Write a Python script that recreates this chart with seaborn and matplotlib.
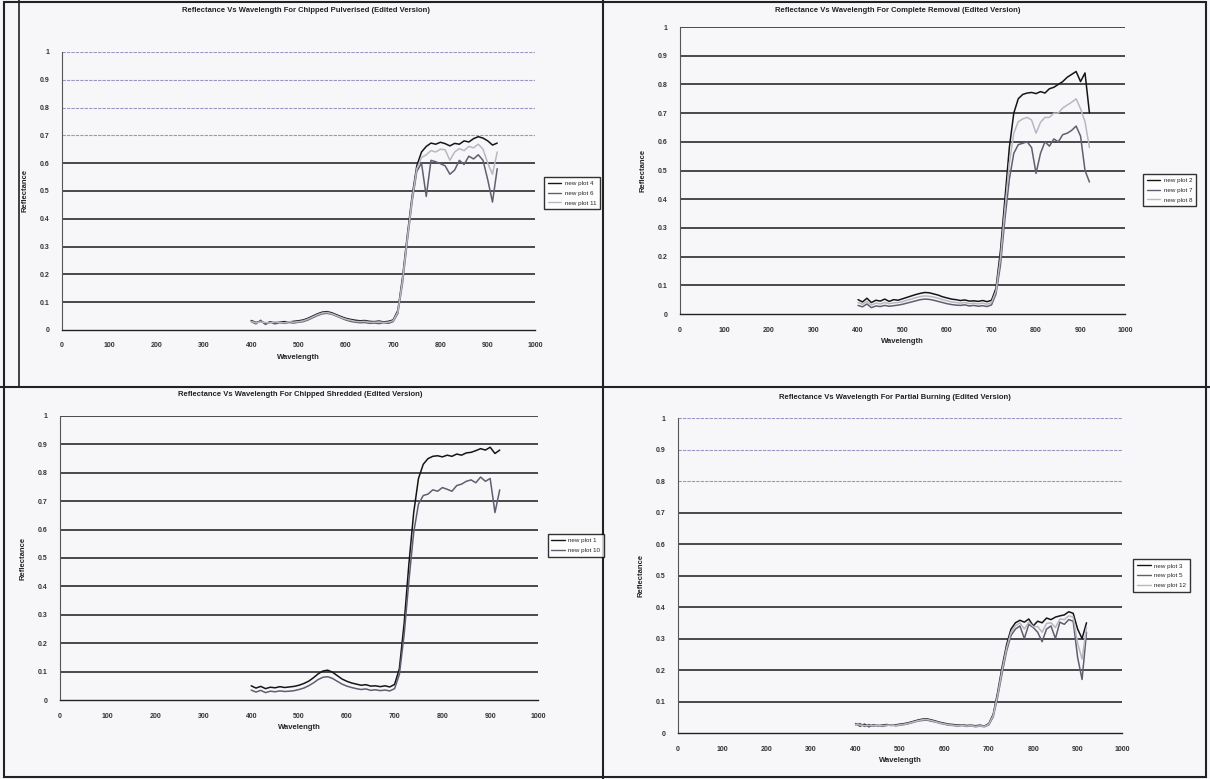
import numpy as np
import pandas as pd
import matplotlib
matplotlib.use('Agg')
import matplotlib.pyplot as plt
import seaborn as sns
from matplotlib.lines import Line2D
from matplotlib.patches import Rectangle

# Golflengte-raster (nm), gedeeld door alle vier de grafieken
wavelength = [400, 410, 420, 430, 440, 450, 460, 470, 480, 490,
              500, 510, 520, 530, 540, 550, 560, 570, 580, 590,
              600, 610, 620, 630, 640, 650, 660, 670, 680, 690,
              700, 710, 720, 730, 740, 750, 760, 770, 780, 790,
              800, 810, 820, 830, 840, 850, 860, 870, 880, 890,
              900, 910, 920]

# Chipped Pulverised
pulv_names = ['new plot 4', 'new plot 6', 'new plot 11']
pulv_plot4 = [0.034, 0.027, 0.031, 0.024, 0.029, 0.026, 0.028, 0.030, 0.029, 0.031,
              0.033, 0.036, 0.042, 0.050, 0.058, 0.064, 0.066, 0.062, 0.055, 0.048,
              0.042, 0.038, 0.035, 0.033, 0.034, 0.031, 0.030, 0.032, 0.029, 0.031,
              0.036, 0.070, 0.190, 0.340, 0.480, 0.590, 0.640, 0.660, 0.672, 0.668,
              0.675, 0.670, 0.662, 0.671, 0.668, 0.680, 0.676, 0.688, 0.695, 0.690,
              0.680, 0.665, 0.672]
pulv_plot6 = [0.030, 0.022, 0.035, 0.020, 0.028, 0.022, 0.026, 0.024, 0.027, 0.025,
              0.028, 0.030, 0.036, 0.044, 0.052, 0.058, 0.060, 0.057, 0.050, 0.043,
              0.036, 0.031, 0.028, 0.026, 0.027, 0.024, 0.025, 0.023, 0.026, 0.024,
              0.030, 0.060, 0.170, 0.320, 0.460, 0.570, 0.600, 0.480, 0.610, 0.605,
              0.598, 0.590, 0.560, 0.575, 0.610, 0.595, 0.625, 0.615, 0.630, 0.610,
              0.540, 0.460, 0.580]
pulv_plot11 = [0.031, 0.026, 0.029, 0.027, 0.025, 0.029, 0.027, 0.026, 0.030, 0.028,
               0.030, 0.033, 0.039, 0.047, 0.055, 0.061, 0.063, 0.059, 0.052, 0.045,
               0.039, 0.035, 0.031, 0.030, 0.031, 0.028, 0.028, 0.029, 0.027, 0.028,
               0.033, 0.065, 0.180, 0.330, 0.470, 0.580, 0.620, 0.630, 0.645, 0.640,
               0.650, 0.648, 0.610, 0.640, 0.652, 0.645, 0.660, 0.655, 0.668, 0.650,
               0.600, 0.560, 0.640]

# Complete Removal
rem_names = ['new plot 2', 'new plot 7', 'new plot 8']
rem_plot2 = [0.050, 0.042, 0.055, 0.040, 0.048, 0.045, 0.052, 0.044, 0.050, 0.048,
             0.053, 0.058, 0.063, 0.068, 0.072, 0.075, 0.074, 0.070, 0.066, 0.060,
             0.056, 0.052, 0.050, 0.047, 0.049, 0.045, 0.046, 0.044, 0.047, 0.043,
             0.048, 0.090, 0.220, 0.400, 0.580, 0.700, 0.750, 0.765, 0.770, 0.772,
             0.768, 0.775, 0.770, 0.785, 0.790, 0.800, 0.810, 0.825, 0.835, 0.845,
             0.810, 0.840, 0.700]
rem_plot7 = [0.030, 0.025, 0.035, 0.022, 0.028, 0.026, 0.030, 0.027, 0.029, 0.031,
             0.034, 0.038, 0.042, 0.046, 0.050, 0.052, 0.051, 0.048, 0.044, 0.040,
             0.036, 0.033, 0.031, 0.030, 0.032, 0.028, 0.030, 0.027, 0.029, 0.026,
             0.032, 0.070, 0.170, 0.330, 0.470, 0.560, 0.590, 0.595, 0.600, 0.580,
             0.490, 0.560, 0.600, 0.585, 0.610, 0.600, 0.625, 0.630, 0.640, 0.655,
             0.620, 0.500, 0.460]
rem_plot8 = [0.040, 0.034, 0.044, 0.031, 0.038, 0.035, 0.040, 0.036, 0.039, 0.040,
             0.043, 0.048, 0.052, 0.057, 0.061, 0.063, 0.062, 0.059, 0.055, 0.050,
             0.046, 0.042, 0.040, 0.038, 0.040, 0.036, 0.038, 0.035, 0.038, 0.034,
             0.040, 0.080, 0.195, 0.365, 0.525, 0.630, 0.670, 0.680, 0.685, 0.676,
             0.630, 0.668, 0.685, 0.685, 0.700, 0.700, 0.718, 0.728, 0.738, 0.750,
             0.715, 0.670, 0.580]

# Chipped Shredded
shred_names = ['new plot 1', 'new plot 10']
shred_plot1 = [0.050, 0.042, 0.048, 0.040, 0.045, 0.043, 0.047, 0.044, 0.046, 0.048,
               0.052, 0.058, 0.066, 0.078, 0.092, 0.102, 0.105, 0.098, 0.086, 0.074,
               0.066, 0.060, 0.056, 0.052, 0.054, 0.049, 0.050, 0.047, 0.050, 0.046,
               0.055, 0.110, 0.270, 0.480, 0.660, 0.780, 0.830, 0.850, 0.858, 0.860,
               0.856, 0.862, 0.858, 0.866, 0.862, 0.870, 0.872, 0.878, 0.885, 0.880,
               0.890, 0.868, 0.880]
shred_plot10 = [0.035, 0.028, 0.034, 0.026, 0.031, 0.029, 0.032, 0.030, 0.031, 0.033,
                0.037, 0.042, 0.050, 0.060, 0.072, 0.080, 0.082, 0.076, 0.066, 0.056,
                0.049, 0.044, 0.040, 0.037, 0.039, 0.034, 0.036, 0.033, 0.035, 0.032,
                0.040, 0.090, 0.230, 0.420, 0.590, 0.690, 0.720, 0.725, 0.740, 0.735,
                0.748, 0.742, 0.735, 0.755, 0.760, 0.770, 0.775, 0.765, 0.785, 0.770,
                0.780, 0.660, 0.740]

# Partial Burning
burn_names = ['new plot 3', 'new plot 5', 'new plot 12']
burn_plot3 = [0.030, 0.022, 0.028, 0.020, 0.026, 0.023, 0.025, 0.027, 0.024, 0.026,
              0.028, 0.030, 0.033, 0.037, 0.041, 0.044, 0.045, 0.042, 0.038, 0.034,
              0.031, 0.028, 0.027, 0.025, 0.026, 0.024, 0.025, 0.023, 0.025, 0.022,
              0.030, 0.060, 0.130, 0.210, 0.280, 0.330, 0.350, 0.358, 0.352, 0.362,
              0.340, 0.355, 0.350, 0.365, 0.360, 0.368, 0.372, 0.375, 0.385, 0.380,
              0.330, 0.300, 0.350]
burn_plot5 = [0.026, 0.030, 0.021, 0.027, 0.022, 0.025, 0.021, 0.024, 0.026, 0.023,
              0.025, 0.027, 0.030, 0.034, 0.038, 0.040, 0.041, 0.038, 0.035, 0.031,
              0.028, 0.025, 0.024, 0.022, 0.024, 0.021, 0.023, 0.020, 0.022, 0.020,
              0.026, 0.052, 0.115, 0.190, 0.260, 0.310, 0.330, 0.340, 0.300, 0.345,
              0.335, 0.320, 0.290, 0.330, 0.340, 0.300, 0.352, 0.345, 0.360, 0.355,
              0.240, 0.170, 0.320]
burn_plot12 = [0.028, 0.025, 0.024, 0.023, 0.024, 0.024, 0.023, 0.025, 0.025, 0.024,
               0.026, 0.028, 0.031, 0.035, 0.039, 0.042, 0.043, 0.040, 0.036, 0.032,
               0.029, 0.026, 0.025, 0.023, 0.025, 0.022, 0.024, 0.021, 0.023, 0.021,
               0.028, 0.056, 0.122, 0.200, 0.270, 0.320, 0.340, 0.350, 0.330, 0.352,
               0.338, 0.338, 0.320, 0.348, 0.350, 0.335, 0.362, 0.360, 0.372, 0.368,
               0.285, 0.235, 0.335]

x_ticks = [0, 100, 200, 300, 400, 500, 600, 700, 800, 900, 1000]
y_ticks = [0, 0.1, 0.2, 0.3, 0.4, 0.5, 0.6, 0.7, 0.8, 0.9, 1.0]
y_labels = ['0', '0.1', '0.2', '0.3', '0.4', '0.5', '0.6', '0.7', '0.8', '0.9', '1']

LINE_COLORS = ['#151515', '#5f5f70', '#b8b8c2']

sns.set_style('white')
plt.rcParams['font.family'] = ['Liberation Sans', 'DejaVu Sans']


def draw_panel(fig, rect, title, title_xy, names, curves, legend_xy, light_above):
    """Teken een reflectie-grafiek in de stijl van de gescande Excel-grafiek."""
    ax = fig.add_axes(rect)
    ax.set_facecolor('none')

    df = pd.DataFrame({
        'Wavelength': np.tile(wavelength, len(names)),
        'Reflectance': np.concatenate(curves),
        'series': np.repeat(names, len(wavelength)),
    })
    palette = dict(zip(names, LINE_COLORS))
    sns.lineplot(data=df, x='Wavelength', y='Reflectance', hue='series',
                 palette=palette, estimator=None, sort=False, lw=1.1,
                 ax=ax, legend=False)

    # Horizontale rasterlijnen (bovenste soms lichter in de scan)
    for v in y_ticks[1:]:
        if v > light_above:
            ax.axhline(v, color='#9c96c4', lw=0.8, ls=(0, (3, 1)), zorder=0)
        else:
            ax.axhline(v, color='#2a2a30', lw=1.2, zorder=0)

    ax.set_xlim(0, 1000)
    ax.set_ylim(0, 1)
    ax.set_xticks(x_ticks)
    ax.set_xticklabels([str(t) for t in x_ticks], fontweight='bold')
    ax.set_yticks(y_ticks)
    ax.set_yticklabels(y_labels, fontweight='bold')
    ax.tick_params(axis='both', labelsize=5, length=3, width=0.7,
                   direction='out', colors='#333333', pad=6)

    for side in ['top', 'right']:
        ax.spines[side].set_visible(False)
    ax.spines['left'].set_linestyle((0, (2, 1)))
    ax.spines['left'].set_color('#555555')
    ax.spines['left'].set_linewidth(0.8)
    ax.spines['bottom'].set_color('#222222')
    ax.spines['bottom'].set_linewidth(1.0)

    ax.set_xlabel('Wavelength', fontsize=5.5, fontweight='bold', labelpad=3)
    ax.set_ylabel('Reflectance', fontsize=5.5, fontweight='bold', labelpad=8)

    fig.text(title_xy[0], title_xy[1], title, fontsize=5.5, fontweight='bold',
             ha='center', va='center', color='#222222')

    handles = [Line2D([], [], color=c, lw=1.0) for c in LINE_COLORS[:len(names)]]
    leg = fig.legend(handles, names, loc='center left', bbox_to_anchor=legend_xy,
                     fontsize=4.5, frameon=True, fancybox=False, edgecolor='black',
                     handlelength=2.2, borderpad=0.6, labelspacing=0.7,
                     handletextpad=0.5)
    leg.get_frame().set_linewidth(1.0)
    return ax


fig = plt.figure(figsize=(12.1, 7.79), dpi=100)
fig.patch.set_facecolor('#f7f7f9')

draw_panel(fig, [0.0512, 0.5764, 0.391, 0.357],
           'Reflectance Vs Wavelength For Chipped Pulverised (Edited Version)',
           (0.253, 0.987), pulv_names, [pulv_plot4, pulv_plot6, pulv_plot11],
           (0.447, 0.752), 0.65)
draw_panel(fig, [0.562, 0.5969, 0.3678, 0.3684],
           'Reflectance Vs Wavelength For Complete Removal (Edited Version)',
           (0.742, 0.987), rem_names, [rem_plot2, rem_plot7, rem_plot8],
           (0.942, 0.756), 1.5)
draw_panel(fig, [0.0496, 0.1014, 0.395, 0.3646],
           'Reflectance Vs Wavelength For Chipped Shredded (Edited Version)',
           (0.248, 0.493), shred_names, [shred_plot1, shred_plot10],
           (0.450, 0.300), 1.5)
draw_panel(fig, [0.5603, 0.059, 0.367, 0.4044],
           'Reflectance Vs Wavelength For Partial Burning (Edited Version)',
           (0.740, 0.490), burn_names, [burn_plot3, burn_plot5, burn_plot12],
           (0.934, 0.261), 0.75)

# Kaderlijnen van de gescande pagina
fig.add_artist(Line2D([0.498, 0.498], [0.0, 1.0], transform=fig.transFigure,
                      color='#222222', lw=1.5))
fig.add_artist(Line2D([0.0, 1.0], [0.503, 0.503], transform=fig.transFigure,
                      color='#222222', lw=1.5))
fig.add_artist(Line2D([0.016, 0.016], [0.503, 1.0], transform=fig.transFigure,
                      color='#222222', lw=1.2))
fig.add_artist(Rectangle((0.003, 0.003), 0.994, 0.994, fill=False,
                         transform=fig.transFigure, color='#222222', lw=1.5))

fig.savefig('out.png', dpi=100, facecolor=fig.get_facecolor())
